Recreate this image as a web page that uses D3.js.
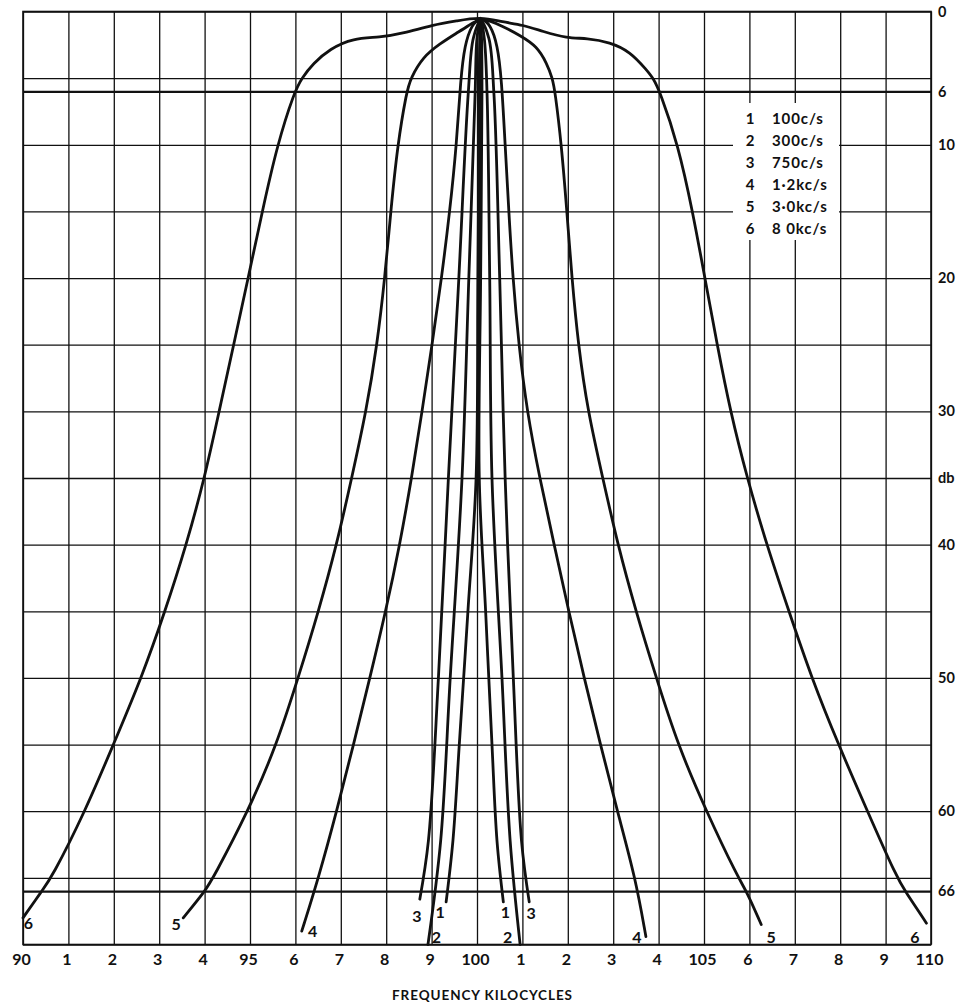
<!DOCTYPE html>
<html>
<head>
<meta charset="utf-8">
<script src="https://cdn.jsdelivr.net/npm/d3@7"></script>
<style>
  html, body { margin: 0; padding: 0; background: #fff; }
  svg { display: block; }
  text { font-family: Lato, "DejaVu Sans", sans-serif; font-weight: bold; fill: #111; }
</style>
</head>
<body>
<svg id="chart" width="959" height="1007"></svg>
<script>
// ---------- data ----------
const freqTicks = [90,91,92,93,94,95,96,97,98,99,100,101,102,103,104,105,106,107,108,109,110];
const freqTickLabels = ["90","1","2","3","4","95","6","7","8","9","100","1","2","3","4","105","6","7","8","9","110"];
const dbGridLines = [0,5,10,15,20,25,30,35,40,45,50,55,60,65,70];
const dbHeavyLines = [6,66];
const dbLabelValues = [0,6,10,20,30,35,40,50,60,66];
const dbLabels = ["0","6","10","20","30","db","40","50","60","66"];

const curveIds = ["1","2","3","4","5","6"];
const curveNames = ["100c/s","300c/s","750c/s","1\u00b72kc/s","3\u00b70kc/s","8 0kc/s"];

// each curve: [frequency kc, attenuation db], left to right
const curve1 = [[99.32,66.8],[99.47,62.2],[99.61,55],[99.8,45],[99.98,35],[100.02,20],[100.05,6],[100.06,2],[100.08,0.5],
                [100.1,2],[100.11,6],[100.08,20],[100.05,35],[100.19,45],[100.33,55],[100.44,62.2],[100.58,66.8]];
const curve2 = [[98.92,70],[99.2,62.2],[99.41,50],[99.67,35],[99.82,20],[99.96,6],[100.0,2],[100.08,0.6],
                [100.16,2],[100.22,6],[100.28,20],[100.33,35],[100.55,50],[100.73,62.2],[100.95,70]];
const curve3 = [[98.74,66.6],[98.93,62.2],[99.15,50],[99.37,35],[99.6,20],[99.81,6],[99.92,2],[100.08,0.7],
                [100.26,2],[100.37,6],[100.5,20],[100.62,35],[100.8,50],[100.98,62.2],[101.15,66.8]];
const curve4 = [[96.14,69.0],[96.51,65],[96.91,60],[97.28,55],[97.64,50],[97.99,45],[98.3,40],[98.56,35],[98.79,30],[99.01,25],
                [99.22,20],[99.4,15],[99.55,10],[99.64,5],[99.73,2.5],[99.88,1.0],[100.08,0.4],[100.3,1.0],[100.45,2.5],
                [100.54,5],[100.62,10],[100.7,15],[100.79,20],[100.92,25],[101.1,30],[101.38,35],[101.7,40],[102.02,45],
                [102.36,50],[102.72,55],[103.09,60],[103.49,65],[103.72,69.4]];
const curve5 = [[93.53,68.0],[94.01,66],[94.19,65],[94.96,60],[95.59,55],[96.06,50],[96.51,45],[96.91,40],[97.24,35],[97.56,30],
                [97.8,25],[97.97,20],[98.1,15],[98.25,10],[98.45,6],[98.54,5],[98.81,3.4],[99.19,2.4],[99.56,1.6],[99.8,1.1],
                [100.08,0.4],[100.57,1.1],[100.95,1.8],[101.32,2.6],[101.54,3.9],[101.66,5],[101.72,6],[101.86,10],[101.98,15],
                [102.09,20],[102.23,25],[102.44,30],[102.77,35],[103.1,40],[103.5,45],[103.95,50],[104.42,55],[105.05,60],
                [105.75,65],[105.94,66],[106.26,68.5]];
const curve6 = [[90.0,68.0],[90.41,66],[90.63,65],[91.37,60],[91.99,55],[92.61,50],[93.13,45],[93.6,40],[94.0,35],[94.32,30],
                [94.64,25],[94.96,20],[95.27,15],[95.6,10],[95.98,6],[96.14,5],[96.39,3.9],[96.76,2.8],[97.27,2.0],[97.86,1.95],
                [98.37,1.65],[99.03,1.0],[99.56,0.7],[100.08,0.4],[100.57,0.8],[101.01,1.0],[101.45,1.5],[101.98,2.0],
                [102.42,2.0],[102.93,2.3],[103.37,3.0],[103.74,4.4],[103.88,5],[104.03,6],[104.43,10],[104.75,15],[105.02,20],
                [105.29,25],[105.58,30],[105.95,35],[106.38,40],[106.87,45],[107.37,50],[107.96,55],[108.6,60],[109.25,65],
                [109.43,66],[109.9,68.4]];
const curves = [curve1, curve2, curve3, curve4, curve5, curve6];

// ---------- layout ----------
const svg = d3.select("#chart");
const padL = 23, padR = 931, padT = 11.5, padB = 944.5;
const x = d3.scaleLinear().domain([90,110]).range([padL, padR]);
const y = d3.scaleLinear().domain([0,70]).range([padT, padB]);
const ink = "#111";

// vertical grid
const gx = svg.append("g").attr("transform", `translate(0,${padB})`)
  .call(d3.axisBottom(x).tickValues(freqTicks).tickSize(-(padB-padT)).tickFormat(""));
gx.select(".domain").remove();
gx.selectAll(".tick line").attr("stroke", ink).attr("stroke-width", 1.3);

// horizontal grid
const gy = svg.append("g").attr("transform", `translate(${padL},0)`)
  .call(d3.axisLeft(y).tickValues(dbGridLines).tickSize(-(padR-padL)).tickFormat(""));
gy.select(".domain").remove();
gy.selectAll(".tick line").attr("stroke", ink).attr("stroke-width", 1.3);

const gh = svg.append("g").attr("transform", `translate(${padL},0)`)
  .call(d3.axisLeft(y).tickValues(dbHeavyLines).tickSize(-(padR-padL)).tickFormat(""));
gh.select(".domain").remove();
gh.selectAll(".tick line").attr("stroke", ink).attr("stroke-width", 2.2);

// frame
svg.append("rect").attr("x", padL).attr("y", padT).attr("width", padR-padL).attr("height", padB-padT)
  .attr("fill", "none").attr("stroke", ink).attr("stroke-width", 1.6);

// bottom tick labels
const bx = svg.append("g").attr("transform", `translate(0,${padB})`)
  .call(d3.axisBottom(x).tickValues(freqTicks).tickSize(0).tickPadding(9)
        .tickFormat((d,i) => freqTickLabels[i]));
bx.select(".domain").remove();
bx.selectAll("text").attr("font-size", 16).attr("fill", ink).attr("dx", -2)
  .style("font-family", "Lato, 'DejaVu Sans', sans-serif").style("font-weight", "bold");

// right tick labels
const ry = svg.append("g").attr("transform", `translate(${padR},0)`)
  .call(d3.axisRight(y).tickValues(dbLabelValues).tickSize(0).tickPadding(7)
        .tickFormat((d,i) => dbLabels[i]));
ry.select(".domain").remove();
ry.selectAll("text").attr("font-size", 14.5).attr("fill", ink)
  .style("font-family", "Lato, 'DejaVu Sans', sans-serif").style("font-weight", "bold");

// axis title
svg.append("text").attr("x", 482).attr("y", 1000).attr("text-anchor", "middle")
  .attr("font-size", 13.5).attr("textLength", 180).attr("lengthAdjust", "spacing")
  .text("FREQUENCY KILOCYCLES");

// legend box (covers grid)
const legX = 733, legY = 103, legW = 106, legH = 137;
svg.append("rect").attr("x", legX).attr("y", legY).attr("width", legW).attr("height", legH).attr("fill", "#fff");
const leg = svg.append("g");
curveIds.forEach((id, i) => {
  leg.append("text").attr("x", 750).attr("y", 124 + i*22).attr("text-anchor", "middle")
    .attr("font-size", 15).text(id);
  leg.append("text").attr("x", 772).attr("y", 124 + i*22).attr("font-size", 15)
    .attr("letter-spacing", 0.9).text(curveNames[i]);
});

// curves: narrow ones through their points, wide ones smoothed
const lineNarrow = d3.line().x(d => x(d[0])).y(d => y(d[1])).curve(d3.curveCatmullRom.alpha(0.5));
const lineWide = d3.line().x(d => x(d[0])).y(d => y(d[1])).curve(d3.curveBasis);
svg.append("g").selectAll("path").data(curves).join("path")
  .attr("d", (d, i) => i < 3 ? lineNarrow(d) : lineWide(d))
  .attr("fill", "none").attr("stroke", ink).attr("stroke-width", 2.8)
  .attr("stroke-linecap", "round").attr("stroke-linejoin", "round");

// curve end labels: [curve index, which end (0 = left, 1 = right), dx, dy]
const endLabelSpec = [
  [5,0,5.5,11],[4,0,-7,12],[3,0,11,6],[2,0,-3,23],[1,0,8.5,-2],[0,0,-6,16],
  [0,1,2,16],[1,1,-12.5,-2],[2,1,2,17],[3,1,-9,6],[4,1,10,18],[5,1,-11.5,20]
];
svg.append("g").selectAll("text").data(endLabelSpec).join("text")
  .attr("x", d => { const c = curves[d[0]]; const p = d[1] ? c[c.length-1] : c[0]; return x(p[0]) + d[2]; })
  .attr("y", d => { const c = curves[d[0]]; const p = d[1] ? c[c.length-1] : c[0]; return y(p[1]) + d[3]; })
  .attr("text-anchor", "middle").attr("font-size", 16)
  .text(d => curveIds[d[0]]);
</script>
</body>
</html>
